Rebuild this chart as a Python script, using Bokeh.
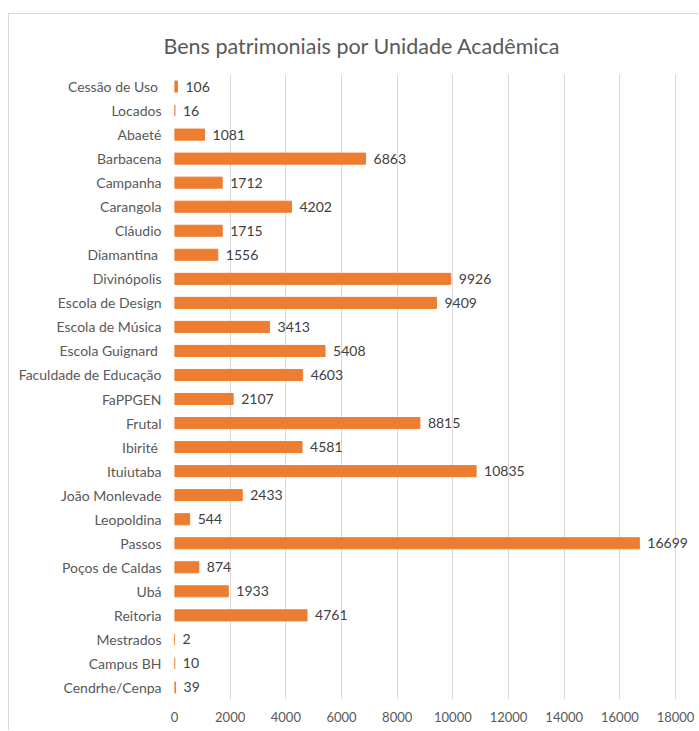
from bokeh.plotting import figure
from bokeh.models import ColumnDataSource, FactorRange, Range1d, FixedTicker
from bokeh.embed import file_html
from bokeh.resources import INLINE

categories = ["Cessão de Uso ", "Locados", "Abaeté", "Barbacena", "Campanha", "Carangola",
              "Cláudio", "Diamantina ", "Divinópolis", "Escola de Design", "Escola de Música",
              "Escola Guignard ", "Faculdade de Educação", "FaPPGEN", "Frutal", "Ibirité ",
              "Ituiutaba", "João Monlevade", "Leopoldina", "Passos", "Poços de Caldas", "Ubá",
              "Reitoria", "Mestrados", "Campus BH", "Cendrhe/Cenpa"]
values = [106, 16, 1081, 6863, 1712, 4202, 1715, 1556, 9926, 9409, 3413, 5408, 4603, 2107,
          8815, 4581, 10835, 2433, 544, 16699, 874, 1933, 4761, 2, 10, 39]
labels = [str(v) for v in values]
x_ticks = [0, 2000, 4000, 6000, 8000, 10000, 12000, 14000, 16000, 18000]

FONT = "Lato"
GRAY = "#595959"

src = ColumnDataSource(dict(cat=categories, val=values, lab=labels))

p = figure(width=690, height=717, output_backend="svg", toolbar_location=None,
           y_range=FactorRange(factors=list(reversed(categories)), range_padding=0),
           x_range=Range1d(0, 18860),
           min_border_left=165, min_border_right=0, min_border_top=59, min_border_bottom=32)
p.margin = (13, 0, 0, 8)
p.styles = {"border-left": "1px solid #d9d9d9", "border-top": "1px solid #d9d9d9"}

p.title.text = "Bens patrimoniais por Unidade Acadêmica"
p.title.align = "left"
p.title.text_font = FONT
p.title.text_font_size = "21.5px"
p.title.text_font_style = "normal"
p.title.text_color = GRAY
p.title.offset = -11
p.title.standoff = 32

p.hbar(y="cat", right="val", left=0, height=0.46, source=src, color="#ED7D31")
p.text(x="val", y="cat", text="lab", source=src, x_offset=8, text_baseline="middle",
       text_align="left", text_font_size="14px", text_color="#404040",
       text_font={"value": FONT})

p.outline_line_color = None
p.ygrid.grid_line_color = None
p.xgrid.grid_line_color = "#d9d9d9"
p.xaxis.ticker = FixedTicker(ticks=x_ticks)
p.xaxis.axis_line_color = None
p.xaxis.major_tick_line_color = None
p.xaxis.minor_tick_line_color = None
p.xaxis.major_label_standoff = 6
p.xaxis.major_label_text_font = FONT
p.xaxis.major_label_text_font_size = "13px"
p.xaxis.major_label_text_color = GRAY

p.yaxis.axis_line_color = None
p.yaxis.major_tick_line_color = None
p.yaxis.minor_tick_line_color = None
p.yaxis.major_label_standoff = 7
p.yaxis.major_label_text_font = FONT
p.yaxis.major_label_text_font_size = "14px"
p.yaxis.major_label_text_color = GRAY

open("out.html", "w").write(file_html(p, INLINE))
